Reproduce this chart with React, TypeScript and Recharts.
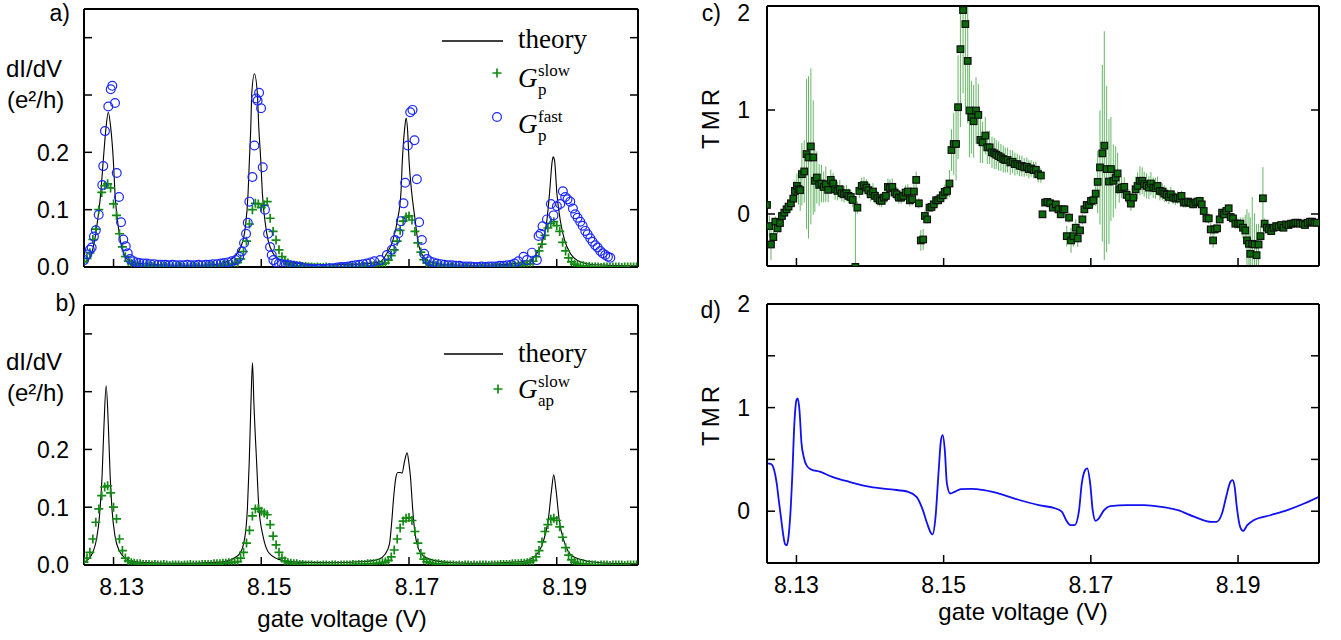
import React from "react";
import { ComposedChart, Line, Scatter, XAxis, YAxis, ErrorBar, Legend } from "recharts";

// gate sweep of the slow (lock-in) measurement
const SWEEP_START = 8.126;
const SWEEP_STEP = 0.0004;

const gateDomain = [8.126, 8.201];
const condDomain = [0, 0.45];
const tmrDomain = [-0.5, 2];
const gateTicks = [8.13, 8.15, 8.17, 8.19];
const condTicks = [0, 0.1, 0.2, 0.3, 0.4];
const condLabels = [0, 0.1, 0.2];
const tmrTicksC = [0, 1, 2];
const tmrTicksD = [0, 0.5, 1, 1.5, 2];
const tmrLabels = [0, 1, 2];

// dI/dV (e^2/h), parallel alignment, slow measurement (one value per sweep step)
const gpSlow = [
  0.010, 0.015, 0.025, 0.048, 0.066, 0.100, 0.130, 0.142, 0.145, 0.138, 0.110, 0.090, 0.058, 0.035, 0.018, 0.010, 0.006,
  0.004, 0.003, 0.003, 0.002, 0.002, 0.002, 0.001, 0.002, 0.001, 0.001, 0.001, 0.000, 0.001, 0.000, 0.000, 0.001, 0.000,
  -0.001, 0.000, 0.000, 0.001, 0.000, 0.000, 0.001, 0.001, 0.001, 0.002, 0.002, 0.002, 0.003, 0.003, 0.004, 0.004, 0.005, 0.006,
  0.008, 0.014, 0.027, 0.045, 0.075, 0.100, 0.111, 0.110, 0.104, 0.108, 0.114, 0.085, 0.062, 0.047, 0.030, 0.018, 0.011, 0.007, 0.004,
  0.003, 0.002, 0.002, 0.001, 0.001, 0.000, 0.000, -0.001, 0.000, -0.001, -0.001, 0.000, -0.001, -0.002, -0.001, -0.001, 0.000,
  -0.001, 0.000, -0.001, 0.000, 0.000, 0.000, 0.001, 0.001, 0.001, 0.002, 0.002, 0.003, 0.004,
  0.005, 0.007, 0.012, 0.020, 0.030, 0.045, 0.064, 0.080, 0.087, 0.089, 0.082, 0.062, 0.042, 0.026, 0.013, 0.007,
  0.004, 0.003, 0.002, 0.002, 0.001, 0.001, 0.000, 0.000, 0.000, -0.001, 0.000, -0.001, -0.001, 0.000, -0.001, 0.000, -0.001,
  -0.001, 0.000, 0.000, -0.001, 0.000, 0.000, 0.000, 0.001, 0.001, 0.001, 0.002, 0.002, 0.002, 0.003, 0.003, 0.004, 0.005,
  0.006, 0.010, 0.018, 0.028, 0.040, 0.055, 0.068, 0.076, 0.079, 0.072, 0.062, 0.043, 0.028, 0.016, 0.009, 0.005,
  0.003, 0.002, 0.002, 0.001, 0.001, 0.000, 0.000, 0.000, -0.001, 0.000, 0.000, -0.001, 0.000, 0.000, 0.000, -0.001, 0.000,
  0.000, 0.000, 0.000, 0.000,
];

// dI/dV (e^2/h), antiparallel alignment, slow measurement
const gapSlow = [
  0.005, 0.012, 0.022, 0.045, 0.074, 0.097, 0.120, 0.135, 0.137, 0.125, 0.100, 0.080, 0.045, 0.025, 0.012, 0.007, 0.004,
  0.003, 0.002, 0.002, 0.001, 0.001, 0.001, 0.000, 0.001, 0.000, 0.000, 0.001, 0.000, -0.001, 0.000, 0.000, 0.000, -0.001,
  0.000, 0.000, 0.001, 0.000, 0.000, 0.000, 0.001, 0.001, 0.001, 0.001, 0.002, 0.002, 0.002, 0.003, 0.003, 0.004, 0.004, 0.005,
  0.006, 0.012, 0.022, 0.038, 0.060, 0.085, 0.097, 0.098, 0.093, 0.090, 0.087, 0.070, 0.050, 0.035, 0.022, 0.012, 0.007, 0.004,
  0.003, 0.002, 0.002, 0.001, 0.001, 0.000, 0.000, 0.000, -0.001, 0.000, -0.001, 0.000, 0.000, -0.001, 0.000, 0.000, -0.001,
  0.000, 0.000, 0.000, 0.000, 0.001, 0.000, 0.001, 0.001, 0.001, 0.002, 0.002, 0.002, 0.003, 0.003,
  0.004, 0.005, 0.008, 0.014, 0.026, 0.045, 0.064, 0.076, 0.081, 0.082, 0.077, 0.058, 0.038, 0.020, 0.010, 0.006,
  0.004, 0.003, 0.002, 0.002, 0.001, 0.001, 0.000, 0.000, 0.000, -0.001, 0.000, -0.001, 0.000, 0.000, -0.001, 0.000, -0.001,
  0.000, 0.000, 0.000, -0.001, 0.000, 0.000, 0.000, 0.001, 0.001, 0.001, 0.001, 0.002, 0.002, 0.002, 0.003, 0.003, 0.004,
  0.005, 0.008, 0.014, 0.025, 0.040, 0.058, 0.070, 0.079, 0.081, 0.077, 0.066, 0.048, 0.030, 0.017, 0.009, 0.005,
  0.003, 0.002, 0.002, 0.001, 0.001, 0.000, 0.000, -0.001, 0.000, 0.000, 0.000, -0.001, 0.000, 0.000, 0.000, 0.000, -0.001,
  0.000, 0.000, 0.000, 0.000,
];

// [gate V, dI/dV] parallel alignment, fast measurement
const gpFast = [
  [8.126, 0.012], [8.12645, 0.022], [8.1268, 0.03], [8.12704, 0.034], [8.12735, 0.053], [8.1276, 0.064], [8.12799, 0.091],
  [8.12848, 0.143], [8.12861, 0.176], [8.12884, 0.237], [8.12929, 0.28], [8.12962, 0.31], [8.12983, 0.316], [8.1302, 0.286],
  [8.13043, 0.164], [8.13074, 0.122], [8.13101, 0.078], [8.13132, 0.048], [8.13165, 0.036], [8.13192, 0.024], [8.13223, 0.014],
  [8.13268, 0.01], [8.1331, 0.008], [8.1335, 0.007], [8.134, 0.006], [8.1345, 0.006], [8.135, 0.005], [8.1355, 0.005],
  [8.136, 0.004], [8.1365, 0.004], [8.137, 0.004], [8.1375, 0.003], [8.138, 0.004], [8.1385, 0.003], [8.139, 0.003],
  [8.1395, 0.003], [8.14, 0.004], [8.1405, 0.003], [8.141, 0.003], [8.1415, 0.004], [8.142, 0.003], [8.1425, 0.004],
  [8.143, 0.004], [8.1435, 0.005], [8.144, 0.005], [8.1445, 0.006], [8.145, 0.007], [8.1455, 0.008], [8.146, 0.01],
  [8.14655, 0.012], [8.147, 0.018], [8.14736, 0.027], [8.14767, 0.042], [8.14794, 0.058], [8.14817, 0.077], [8.14839, 0.114],
  [8.1488, 0.157], [8.14907, 0.212], [8.1493, 0.294], [8.1495, 0.29], [8.1497, 0.304], [8.14997, 0.277], [8.1502, 0.174],
  [8.1505, 0.1], [8.15092, 0.058], [8.15119, 0.035], [8.15142, 0.021], [8.15164, 0.012], [8.152, 0.008], [8.1524, 0.006],
  [8.1528, 0.005], [8.1533, 0.004], [8.1538, 0.003], [8.1543, 0.002], [8.1548, 0.001], [8.1553, 0.0], [8.1558, -0.002],
  [8.1563, -0.003], [8.1568, -0.004], [8.1573, -0.004], [8.1578, -0.003], [8.1583, -0.004], [8.1588, -0.003], [8.1593, -0.002],
  [8.1598, -0.002], [8.1603, -0.001], [8.1608, 0.0], [8.1613, 0.0], [8.1618, 0.001], [8.1623, 0.002], [8.1628, 0.003],
  [8.1633, 0.004], [8.1638, 0.005], [8.1643, 0.006], [8.1648, 0.008], [8.1653, 0.01], [8.1661, 0.012], [8.167, 0.021],
  [8.16768, 0.03], [8.16812, 0.047], [8.16857, 0.059], [8.1689, 0.08], [8.16925, 0.111], [8.16948, 0.147], [8.16984, 0.212],
  [8.17016, 0.27], [8.17047, 0.274], [8.17074, 0.221], [8.17106, 0.153], [8.17137, 0.078], [8.17174, 0.047], [8.17205, 0.023],
  [8.17241, 0.014], [8.1728, 0.01], [8.1733, 0.008], [8.1738, 0.006], [8.1743, 0.005], [8.1748, 0.004], [8.1753, 0.003],
  [8.1758, 0.003], [8.1763, 0.002], [8.1768, 0.002], [8.1773, 0.001], [8.1778, 0.001], [8.1783, 0.001], [8.1788, 0.0],
  [8.1793, 0.0], [8.1798, 0.001], [8.1803, 0.0], [8.1808, 0.001], [8.1813, 0.001], [8.1818, 0.001], [8.1823, 0.002],
  [8.1828, 0.002], [8.1833, 0.003], [8.1838, 0.004], [8.1843, 0.006], [8.1848, 0.01], [8.1855, 0.018], [8.18596, 0.012],
  [8.18664, 0.025], [8.18731, 0.012], [8.18754, 0.054], [8.1878, 0.058], [8.18808, 0.071], [8.18867, 0.083], [8.18921, 0.11],
  [8.18956, 0.09], [8.19002, 0.106], [8.19047, 0.11], [8.19083, 0.132], [8.19115, 0.122], [8.19146, 0.118], [8.19183, 0.114],
  [8.19219, 0.102], [8.1925, 0.092], [8.19282, 0.086], [8.19318, 0.079], [8.1935, 0.072], [8.19386, 0.063], [8.19418, 0.057],
  [8.19454, 0.05], [8.19485, 0.044], [8.19521, 0.038], [8.19553, 0.034], [8.19589, 0.028], [8.19621, 0.024], [8.19657, 0.021],
  [8.19693, 0.018], [8.19725, 0.016],
];

// [gate V, dI/dV] theory, parallel
const theoryP = [
  [8.126, 0.008], [8.12658, 0.012], [8.12726, 0.035], [8.12772, 0.07], [8.12826, 0.128], [8.12861, 0.186], [8.12898, 0.243],
  [8.12929, 0.27], [8.12962, 0.243], [8.12997, 0.186], [8.1302, 0.128], [8.13065, 0.07], [8.1311, 0.035], [8.132, 0.012],
  [8.1335, 0.006], [8.136, 0.004], [8.14, 0.003], [8.1435, 0.004], [8.14578, 0.012], [8.14722, 0.035], [8.14785, 0.07],
  [8.14821, 0.128], [8.14839, 0.186], [8.14858, 0.244], [8.14871, 0.302], [8.14907, 0.337], [8.14947, 0.302], [8.14966, 0.244],
  [8.14993, 0.186], [8.15015, 0.128], [8.15061, 0.07], [8.15119, 0.035], [8.15255, 0.012], [8.155, 0.006], [8.159, 0.004],
  [8.163, 0.005], [8.16609, 0.009], [8.16701, 0.024], [8.16782, 0.047], [8.16844, 0.082], [8.1689, 0.128], [8.1691, 0.186],
  [8.1694, 0.24], [8.16961, 0.26], [8.1698, 0.24], [8.17, 0.186], [8.17038, 0.128], [8.17083, 0.082], [8.17118, 0.047],
  [8.17169, 0.024], [8.17283, 0.009], [8.175, 0.004], [8.18, 0.003], [8.1835, 0.005], [8.18596, 0.009], [8.18731, 0.024],
  [8.18812, 0.047], [8.18867, 0.082], [8.18902, 0.128], [8.1894, 0.186], [8.18952, 0.192], [8.1897, 0.186], [8.19002, 0.128],
  [8.19047, 0.082], [8.19106, 0.047], [8.19183, 0.024], [8.19318, 0.009], [8.195, 0.004], [8.201, 0.002],
];

// [gate V, dI/dV] theory, antiparallel
const theoryAP = [
  [8.126, 0.005], [8.1266, 0.01], [8.1272, 0.022], [8.1277, 0.045], [8.1281, 0.085], [8.12845, 0.155], [8.1287, 0.24],
  [8.129, 0.31], [8.1293, 0.24], [8.12954, 0.155], [8.1298, 0.095], [8.1302, 0.05], [8.1308, 0.024], [8.1316, 0.012],
  [8.1328, 0.006], [8.135, 0.004], [8.14, 0.003], [8.1445, 0.005], [8.1457, 0.008], [8.1471, 0.02], [8.1478, 0.05],
  [8.14813, 0.1], [8.14836, 0.175], [8.1486, 0.28], [8.14881, 0.35], [8.149, 0.28], [8.14938, 0.175], [8.14967, 0.1],
  [8.15024, 0.05], [8.15109, 0.02], [8.1528, 0.008], [8.155, 0.005], [8.16, 0.004], [8.164, 0.006], [8.1659, 0.01],
  [8.16678, 0.019], [8.16735, 0.036], [8.16763, 0.07], [8.16792, 0.117], [8.1682, 0.15], [8.16849, 0.16], [8.1688, 0.16],
  [8.16906, 0.159], [8.1694, 0.18], [8.16974, 0.194], [8.17, 0.175], [8.1702, 0.152], [8.17048, 0.1], [8.17077, 0.059],
  [8.17122, 0.03], [8.17191, 0.016], [8.17333, 0.008], [8.176, 0.004], [8.18, 0.003], [8.184, 0.005], [8.18531, 0.006],
  [8.18702, 0.015], [8.18816, 0.04], [8.18885, 0.078], [8.1893, 0.13], [8.18959, 0.156], [8.1899, 0.13], [8.19033, 0.078],
  [8.19102, 0.04], [8.19216, 0.015], [8.19444, 0.006], [8.197, 0.003], [8.201, 0.002],
];

// [gate V, TMR, error] measured
const tmrMeasured = [
  [8.126, 0.087, 0.05], [8.12632, -0.116, 0.1], [8.12654, -0.293, 0.15], [8.12686, -0.222, 0.1], [8.12713, -0.074, 0.05],
  [8.12744, -0.138, 0.05], [8.12776, -0.087, 0.05], [8.12803, -0.019, 0.04], [8.12835, 0.013, 0.04], [8.12866, 0.045, 0.04],
  [8.12893, 0.071, 0.05], [8.12925, 0.103, 0.05], [8.12957, 0.148, 0.08], [8.12979, 0.222, 0.1], [8.13006, 0.27, 0.12],
  [8.13028, 0.24, 0.15], [8.13051, 0.229, 0.2], [8.13074, 0.383, 0.3], [8.13106, 0.409, 0.3], [8.13137, 0.576, 0.72],
  [8.13164, 0.544, 0.78], [8.13196, 0.65, 0.75], [8.13228, 0.544, 0.55], [8.1325, 0.319, 0.3], [8.13277, 0.351, 0.25],
  [8.13309, 0.28, 0.2], [8.1334, 0.293, 0.18], [8.1337, 0.26, 0.15], [8.13399, 0.287, 0.17], [8.13431, 0.232, 0.12],
  [8.13467, 0.328, 0.1], [8.13498, 0.293, 0.1], [8.13526, 0.238, 0.1], [8.13557, 0.222, 0.09], [8.13589, 0.238, 0.09],
  [8.13616, 0.2, 0.08], [8.13647, 0.19, 0.08], [8.13679, 0.2, 0.08], [8.13706, 0.174, 0.07], [8.13738, 0.164, 0.07],
  [8.13765, 0.135, 0.07], [8.13801, -0.509, 0.57], [8.13828, 0.061, 0.06], [8.13855, 0.222, 0.07], [8.13887, 0.27, 0.08],
  [8.13918, 0.277, 0.08], [8.1395, 0.254, 0.08], [8.13977, 0.229, 0.08], [8.14009, 0.19, 0.07], [8.1404, 0.216, 0.08],
  [8.14067, 0.174, 0.07], [8.14099, 0.151, 0.07], [8.14131, 0.132, 0.06], [8.14158, 0.126, 0.06], [8.14189, 0.158, 0.06],
  [8.14216, 0.174, 0.07], [8.14243, 0.261, 0.08], [8.1427, 0.25, 0.08], [8.14302, 0.261, 0.08], [8.14334, 0.206, 0.07],
  [8.14361, 0.19, 0.07], [8.14392, 0.158, 0.06], [8.14424, 0.158, 0.06], [8.14451, 0.174, 0.06], [8.14483, 0.206, 0.07],
  [8.14514, 0.216, 0.07], [8.14541, 0.132, 0.06], [8.14573, 0.142, 0.06], [8.14596, 0.216, 0.07], [8.14627, 0.328, 0.08],
  [8.14663, 0.103, 0.05], [8.1469, -0.254, 0.1], [8.14722, -0.245, 0.1], [8.14745, -0.019, 0.05], [8.14776, -0.052, 0.04],
  [8.14808, 0.061, 0.04], [8.14835, 0.068, 0.04], [8.14866, 0.093, 0.04], [8.14898, 0.132, 0.05], [8.14925, 0.132, 0.05],
  [8.14957, 0.151, 0.05], [8.14988, 0.18, 0.06], [8.15015, 0.213, 0.07], [8.15047, 0.222, 0.08], [8.15079, 0.293, 0.13],
  [8.15106, 0.615, 0.2], [8.15137, 0.673, 0.3], [8.15169, 0.673, 0.35], [8.15196, 1.027, 0.5], [8.15228, 1.585, 0.75],
  [8.15264, 1.961, 0.8], [8.15295, 1.826, 0.8], [8.15327, 1.472, 0.6], [8.1535, 0.995, 0.45], [8.15377, 0.931, 0.35],
  [8.15408, 0.892, 0.35], [8.1544, 0.995, 0.32], [8.15471, 0.953, 0.3], [8.15499, 0.712, 0.22], [8.1553, 0.689, 0.2],
  [8.15566, 0.754, 0.18], [8.15593, 0.641, 0.16], [8.15625, 0.641, 0.16], [8.15657, 0.593, 0.15], [8.15688, 0.583, 0.15],
  [8.15715, 0.57, 0.14], [8.15747, 0.557, 0.14], [8.15778, 0.544, 0.13], [8.1581, 0.528, 0.13], [8.15837, 0.519, 0.12],
  [8.15869, 0.519, 0.12], [8.15905, 0.496, 0.12], [8.15937, 0.502, 0.11], [8.15968, 0.48, 0.11], [8.16, 0.48, 0.1],
  [8.16031, 0.464, 0.1], [8.16063, 0.461, 0.1], [8.16095, 0.448, 0.09], [8.1613, 0.454, 0.09], [8.16158, 0.432, 0.09],
  [8.16189, 0.438, 0.08], [8.16221, 0.422, 0.08], [8.16253, 0.425, 0.08], [8.16284, 0.383, 0.08], [8.16321, 0.37, 0.07],
  [8.16343, -0.003, 0.03], [8.16379, 0.11, 0.03], [8.1641, 0.116, 0.03], [8.16447, 0.103, 0.03], [8.16483, 0.061, 0.03],
  [8.16524, 0.093, 0.03], [8.1656, 0.045, 0.03], [8.16591, -0.003, 0.03], [8.16618, 0.045, 0.03], [8.16641, 0.045, 0.04],
  [8.16673, -0.213, 0.1], [8.16704, -0.035, 0.05], [8.16731, -0.254, 0.12], [8.16763, -0.213, 0.1], [8.16795, -0.132, 0.08],
  [8.16822, -0.235, 0.08], [8.16853, -0.158, 0.05], [8.16885, -0.052, 0.05], [8.16912, 0.045, 0.04], [8.16944, 0.087, 0.04],
  [8.16975, 0.087, 0.04], [8.17002, 0.126, 0.05], [8.17034, 0.132, 0.06], [8.17066, 0.196, 0.12], [8.17093, 0.309, 0.3],
  [8.17124, 0.448, 0.55], [8.17156, 0.583, 0.85], [8.17183, 0.657, 1.1], [8.17215, 0.432, 0.8], [8.17246, 0.312, 0.6],
  [8.17273, 0.432, 0.5], [8.17305, 0.319, 0.35], [8.17337, 0.351, 0.3], [8.17364, 0.39, 0.2], [8.17386, 0.238, 0.13],
  [8.17418, 0.254, 0.1], [8.17454, 0.261, 0.09], [8.17486, 0.184, 0.08], [8.17517, 0.158, 0.08], [8.17544, 0.1, 0.07],
  [8.17576, 0.158, 0.1], [8.17608, 0.238, 0.12], [8.17635, 0.27, 0.13], [8.17667, 0.319, 0.14], [8.17698, 0.319, 0.13],
  [8.17725, 0.287, 0.12], [8.17757, 0.27, 0.12], [8.17789, 0.254, 0.11], [8.17816, 0.293, 0.11], [8.17847, 0.254, 0.1],
  [8.17879, 0.248, 0.1], [8.17906, 0.27, 0.09], [8.17938, 0.222, 0.09], [8.1797, 0.216, 0.08], [8.17997, 0.196, 0.08],
  [8.18028, 0.184, 0.07], [8.1806, 0.164, 0.07], [8.18087, 0.19, 0.07], [8.18119, 0.158, 0.06], [8.1815, 0.148, 0.06],
  [8.18177, 0.158, 0.06], [8.18209, 0.151, 0.05], [8.18232, 0.174, 0.05], [8.18263, 0.11, 0.05], [8.1829, 0.11, 0.05],
  [8.18322, 0.119, 0.04], [8.18354, 0.106, 0.04], [8.1839, 0.093, 0.04], [8.18421, 0.11, 0.04], [8.18448, 0.119, 0.04],
  [8.1848, 0.126, 0.04], [8.18507, 0.093, 0.04], [8.18534, 0.029, 0.04], [8.1857, -0.042, 0.04], [8.18602, -0.042, 0.05],
  [8.18629, -0.148, 0.06], [8.18661, -0.254, 0.07], [8.18683, -0.148, 0.05], [8.18715, -0.138, 0.05], [8.18751, -0.052, 0.04],
  [8.18783, 0.013, 0.04], [8.1881, -0.003, 0.04], [8.18841, 0.029, 0.04], [8.18873, 0.055, 0.04], [8.189, -0.029, 0.04],
  [8.18932, -0.042, 0.04], [8.18963, -0.093, 0.05], [8.18999, -0.093, 0.05], [8.19031, -0.093, 0.06], [8.19067, -0.132, 0.1],
  [8.19098, -0.158, 0.15], [8.19121, -0.254, 0.3], [8.19148, -0.287, 0.3], [8.19166, -0.383, 0.35], [8.19193, -0.287, 0.45],
  [8.19225, -0.293, 0.3], [8.19252, -0.396, 0.3], [8.19279, -0.293, 0.2], [8.19306, -0.213, 0.1], [8.19338, 0.151, 0.3],
  [8.19361, -0.093, 0.05], [8.19392, -0.132, 0.04], [8.19419, -0.148, 0.04], [8.19451, -0.164, 0.04], [8.19482, -0.132, 0.04],
  [8.19518, -0.116, 0.04], [8.1955, -0.126, 0.03], [8.19586, -0.106, 0.03], [8.19617, -0.132, 0.03], [8.19653, -0.1, 0.03],
  [8.19685, -0.106, 0.03], [8.19721, -0.093, 0.03], [8.19752, -0.093, 0.03], [8.19779, -0.084, 0.03], [8.19811, -0.084, 0.03],
  [8.19843, -0.093, 0.03], [8.19879, -0.093, 0.03], [8.1991, -0.106, 0.03], [8.19946, -0.084, 0.03], [8.19978, -0.074, 0.03],
  [8.20005, -0.074, 0.03], [8.20037, -0.084, 0.03], [8.20068, -0.084, 0.03],
];

// [gate V, TMR] theory
const tmrTheory = [
  [8.126, 0.461], [8.12657, 0.455], [8.12697, 0.397], [8.12732, 0.268], [8.1276, 0.106], [8.12789, -0.055], [8.12818, -0.216],
  [8.12846, -0.319], [8.12869, -0.329], [8.12892, -0.248], [8.12915, -0.055], [8.12943, 0.332], [8.12972, 0.848],
  [8.13001, 1.074], [8.13018, 1.09], [8.13041, 0.977], [8.13069, 0.655], [8.13098, 0.526], [8.13144, 0.435], [8.13201, 0.403],
  [8.13316, 0.381], [8.13487, 0.332], [8.13716, 0.284], [8.14003, 0.235], [8.14289, 0.21], [8.14518, 0.187], [8.14632, 0.139],
  [8.14718, 0.01], [8.14776, -0.119], [8.14833, -0.216], [8.1485, -0.223], [8.1489, -0.055], [8.1493, 0.365], [8.14964, 0.687],
  [8.14987, 0.735], [8.15016, 0.59], [8.15044, 0.268], [8.1509, 0.171], [8.15148, 0.187], [8.15234, 0.213], [8.15377, 0.216],
  [8.15548, 0.203], [8.15777, 0.165], [8.16006, 0.113], [8.16293, 0.058], [8.16522, 0.026], [8.16608, -0.006],
  [8.16665, -0.087], [8.16722, -0.135], [8.16779, -0.135], [8.16837, -0.006], [8.16877, 0.268], [8.16923, 0.397],
  [8.16951, 0.413], [8.16991, 0.268], [8.17025, 0.01], [8.17065, -0.094], [8.17106, -0.071], [8.1718, 0.01], [8.17266, 0.048],
  [8.17495, 0.058], [8.17724, 0.058], [8.17953, 0.042], [8.18182, 0.01], [8.18411, -0.055], [8.18639, -0.103],
  [8.18708, -0.103], [8.18782, -0.023], [8.18839, 0.139], [8.18897, 0.284], [8.18925, 0.3], [8.18954, 0.235], [8.18983, 0.042],
  [8.19029, -0.152], [8.19069, -0.19], [8.19126, -0.135], [8.19212, -0.087], [8.19441, -0.039], [8.1967, 0.01],
  [8.19899, 0.074], [8.201, 0.139],
];

const sweep = (vals: number[]) => vals.map((g, i) => ({ v: SWEEP_START + i * SWEEP_STEP, g }));
const pts = (list: number[][]) => list.map(([v, g]) => ({ v, g }));
// error bars are cut at the frame, as the plotting program does
const tmrPts = tmrMeasured.map(([v, g, e]) => ({
  v,
  g,
  e: [Math.max(0, Math.min(e, g - tmrDomain[0])), Math.max(0, Math.min(e, tmrDomain[1] - g))],
}));

const BLACK = "#000";
const GREEN = "#138a13";
const BLUE = "#1a28ff";
const LINE_BLUE = "#1010f0";
const SQUARE = "#0a6a0a";
const ERR = "#3fa53f";
const SANS = "'Liberation Sans', Arial, Helvetica, sans-serif";
const SERIF = "'Liberation Serif', 'Times New Roman', serif";
const frame = { stroke: BLACK, strokeWidth: 2 };

function BottomTick(props: any) {
  const { x, y, payload, labelled, shiftX = 0 } = props;
  return (
    <g>
      <line x1={x} y1={y} x2={x} y2={y - 8} stroke={BLACK} strokeWidth={1.5} />
      {labelled && (
        <text x={x + shiftX} y={y + 30} textAnchor="middle" fontFamily={SANS} fontSize={23} fill={BLACK}>
          {payload.value.toFixed(2)}
        </text>
      )}
    </g>
  );
}

function TopTick(props: any) {
  const { x, y } = props;
  return <line x1={x} y1={y} x2={x} y2={y + 8} stroke={BLACK} strokeWidth={1.5} />;
}

function LeftTick(props: any) {
  const { x, y, payload, labels, digits, gap, minY = 0 } = props;
  const show = labels.includes(payload.value);
  return (
    <g>
      <line x1={x} y1={y} x2={x + 8} y2={y} stroke={BLACK} strokeWidth={1.5} />
      {show && (
        <text x={x - gap} y={Math.max(y, minY)} dy="0.36em" textAnchor="end" fontFamily={SANS} fontSize={23} fill={BLACK}>
          {payload.value.toFixed(digits)}
        </text>
      )}
    </g>
  );
}

function RightTick(props: any) {
  const { x, y } = props;
  return <line x1={x} y1={y} x2={x - 8} y2={y} stroke={BLACK} strokeWidth={1.5} />;
}

function PlusMark({ cx, cy }: any) {
  return <path d={`M${cx - 4.5},${cy}H${cx + 4.5}M${cx},${cy - 4.5}V${cy + 4.5}`} stroke={GREEN} strokeWidth={1.7} fill="none" />;
}
function RingMark({ cx, cy }: any) {
  return <circle cx={cx} cy={cy} r={4.4} fill="none" stroke={BLUE} strokeWidth={1.2} />;
}
function SquareMark({ cx, cy }: any) {
  return <rect x={cx - 3.3} y={cy - 3.3} width={6.6} height={6.6} fill={SQUARE} stroke="#111" strokeWidth={1.2} />;
}

function GLabel({ gx, gy, sup, sub }: any) {
  return (
    <g fontFamily={SERIF} fill={BLACK}>
      <text x={gx} y={gy} fontSize={27} fontStyle="italic">G</text>
      <text x={gx + 20} y={gy - 11} fontSize={17}>{sup}</text>
      <text x={gx + 20} y={gy + 8} fontSize={17}>{sub}</text>
    </g>
  );
}

function LegendP() {
  return (
    <svg width={210} height={130}>
      <line x1={12} y1={21} x2={73} y2={21} stroke={BLACK} strokeWidth={1.3} />
      <text x={88} y={28} fontFamily={SERIF} fontSize={27}>theory</text>
      <PlusMark cx={67} cy={53} />
      <GLabel gx={88} gy={67} sup="slow" sub="p" />
      <RingMark cx={67} cy={97} />
      <GLabel gx={88} gy={113} sup="fast" sub="p" />
    </svg>
  );
}

function LegendAP() {
  return (
    <svg width={210} height={110}>
      <line x1={14} y1={44} x2={73} y2={44} stroke={BLACK} strokeWidth={1.3} />
      <text x={88} y={52} fontFamily={SERIF} fontSize={27}>theory</text>
      <PlusMark cx={68} cy={79} />
      <GLabel gx={88} gy={88} sup="slow" sub="ap" />
    </svg>
  );
}

function CondTitle({ letter, letterX, letterY, titleY }: any) {
  return (
    <g fontFamily={SANS} fill={BLACK}>
      <text x={letterX} y={letterY} textAnchor="end" fontSize={23}>{letter}</text>
      <text x={6} y={titleY} fontSize={24}>dI/dV</text>
      <text x={7} y={titleY + 31} fontSize={24}>(e²/h)</text>
    </g>
  );
}

function TmrTitle({ letter, letterY, midY }: any) {
  return (
    <g fontFamily={SANS} fill={BLACK}>
      <text x={51} y={letterY} textAnchor="end" fontSize={23}>{letter}</text>
      <text x={40} y={midY} transform={`rotate(-90 40 ${midY})`} textAnchor="middle" dy="0.36em" fontSize={24} letterSpacing={4}>
        TMR
      </text>
    </g>
  );
}

function GateTitle({ titleX, titleY }: any) {
  return (
    <text x={titleX} y={titleY} textAnchor="middle" fontFamily={SANS} fontSize={24} fill={BLACK}>
      gate voltage (V)
    </text>
  );
}

// axes are 1px thick boxes (Recharts skips zero-sized axes); margins are reduced by that 1px
function gateAxes(labelled: boolean, shiftX: number, title?: React.ReactElement) {
  return [
    <XAxis key="xb" type="number" dataKey="v" domain={gateDomain} ticks={gateTicks} allowDataOverflow interval={0}
      height={1} tickSize={0} tickMargin={0} tickLine={false} axisLine={frame}
      tick={<BottomTick labelled={labelled} shiftX={shiftX} />} label={title} />,
    <XAxis key="xt" xAxisId="top" orientation="top" type="number" domain={gateDomain} ticks={gateTicks} allowDataOverflow
      interval={0} height={1} tickSize={0} tickMargin={0} tickLine={false} axisLine={frame} tick={<TopTick />} />,
  ];
}

function valueAxes(domain: number[], ticks: number[], labels: number[], digits: number, gap: number, minY: number,
  title: React.ReactElement) {
  return [
    <YAxis key="yl" type="number" domain={domain} ticks={ticks} allowDataOverflow interval={0} width={1} tickSize={0}
      tickMargin={0} tickLine={false} axisLine={frame}
      tick={<LeftTick labels={labels} digits={digits} gap={gap} minY={minY} />} label={title} />,
    <YAxis key="yr" yAxisId="right" orientation="right" type="number" domain={domain} ticks={ticks} allowDataOverflow
      interval={0} width={1} tickSize={0} tickMargin={0} tickLine={false} axisLine={frame} tick={<RightTick />} />,
  ];
}

export default function App() {
  return (
    <div style={{ position: "absolute", left: 0, top: 0, width: 1341, height: 640, background: "#fff" }}>
      {/* a) parallel */}
      <div style={{ position: "absolute", left: 0, top: 0 }}>
        <ComposedChart width={670} height={290} margin={{ top: 8, right: 31, bottom: 22, left: 83 }}>
          {gateAxes(false, 0)}
          {valueAxes(condDomain, condTicks, condLabels, 1, 15, 0,
            <CondTitle letter="a)" letterX={70} letterY={21} titleY={77} />)}
          <Line data={pts(theoryP)} dataKey="g" type="monotone" stroke={BLACK} strokeWidth={1.1} dot={false} isAnimationActive={false} />
          <Scatter data={sweep(gpSlow)} dataKey="g" shape={(p: any) => <PlusMark cx={p.cx} cy={p.cy} />} isAnimationActive={false} />
          <Scatter data={pts(gpFast)} dataKey="g" shape={(p: any) => <RingMark cx={p.cx} cy={p.cy} />} isAnimationActive={false} />
          <Legend layout="horizontal" verticalAlign="middle" align="center"
            wrapperStyle={{ left: 430, top: 20, width: 210, height: 130 }} content={() => <LegendP />} />
        </ComposedChart>
      </div>

      {/* b) antiparallel */}
      <div style={{ position: "absolute", left: 0, top: 290 }}>
        <ComposedChart width={670} height={350} margin={{ top: 14, right: 31, bottom: 74, left: 83 }}>
          {gateAxes(true, 8, <GateTitle titleX={342} titleY={337} />)}
          {valueAxes(condDomain, condTicks, condLabels, 1, 15, 0,
            <CondTitle letter="b)" letterX={76} letterY={21} titleY={80} />)}
          <Line data={pts(theoryAP)} dataKey="g" type="monotone" stroke={BLACK} strokeWidth={1.1} dot={false} isAnimationActive={false} />
          <Scatter data={sweep(gapSlow)} dataKey="g" shape={(p: any) => <PlusMark cx={p.cx} cy={p.cy} />} isAnimationActive={false} />
          <Legend layout="horizontal" verticalAlign="middle" align="center"
            wrapperStyle={{ left: 430, top: 20, width: 210, height: 110 }} content={() => <LegendAP />} />
        </ComposedChart>
      </div>

      {/* c) measured TMR */}
      <div style={{ position: "absolute", left: 670, top: 0 }}>
        <ComposedChart width={671} height={290} margin={{ top: 5, right: 21, bottom: 23, left: 96 }}>
          {gateAxes(false, 0)}
          {valueAxes(tmrDomain, tmrTicksC, tmrLabels, 0, 17, 13, <TmrTitle letter="c)" letterY={21} midY={117} />)}
          <Scatter data={tmrPts} dataKey="g" shape={(p: any) => <SquareMark cx={p.cx} cy={p.cy} />} isAnimationActive={false}>
            <ErrorBar dataKey="e" direction="y" width={0} stroke={ERR} strokeOpacity={0.8} strokeWidth={1} />
          </Scatter>
        </ComposedChart>
      </div>

      {/* d) theoretical TMR */}
      <div style={{ position: "absolute", left: 670, top: 290 }}>
        <ComposedChart width={671} height={350} margin={{ top: 13, right: 21, bottom: 76, left: 96 }}>
          {gateAxes(true, 0, <GateTitle titleX={353} titleY={330} />)}
          {valueAxes(tmrDomain, tmrTicksD, tmrLabels, 0, 17, 0, <TmrTitle letter="d)" letterY={28} midY={124} />)}
          <Line data={pts(tmrTheory)} dataKey="g" type="monotone" stroke={LINE_BLUE} strokeWidth={1.8} dot={false} isAnimationActive={false} />
        </ComposedChart>
      </div>
    </div>
  );
}
